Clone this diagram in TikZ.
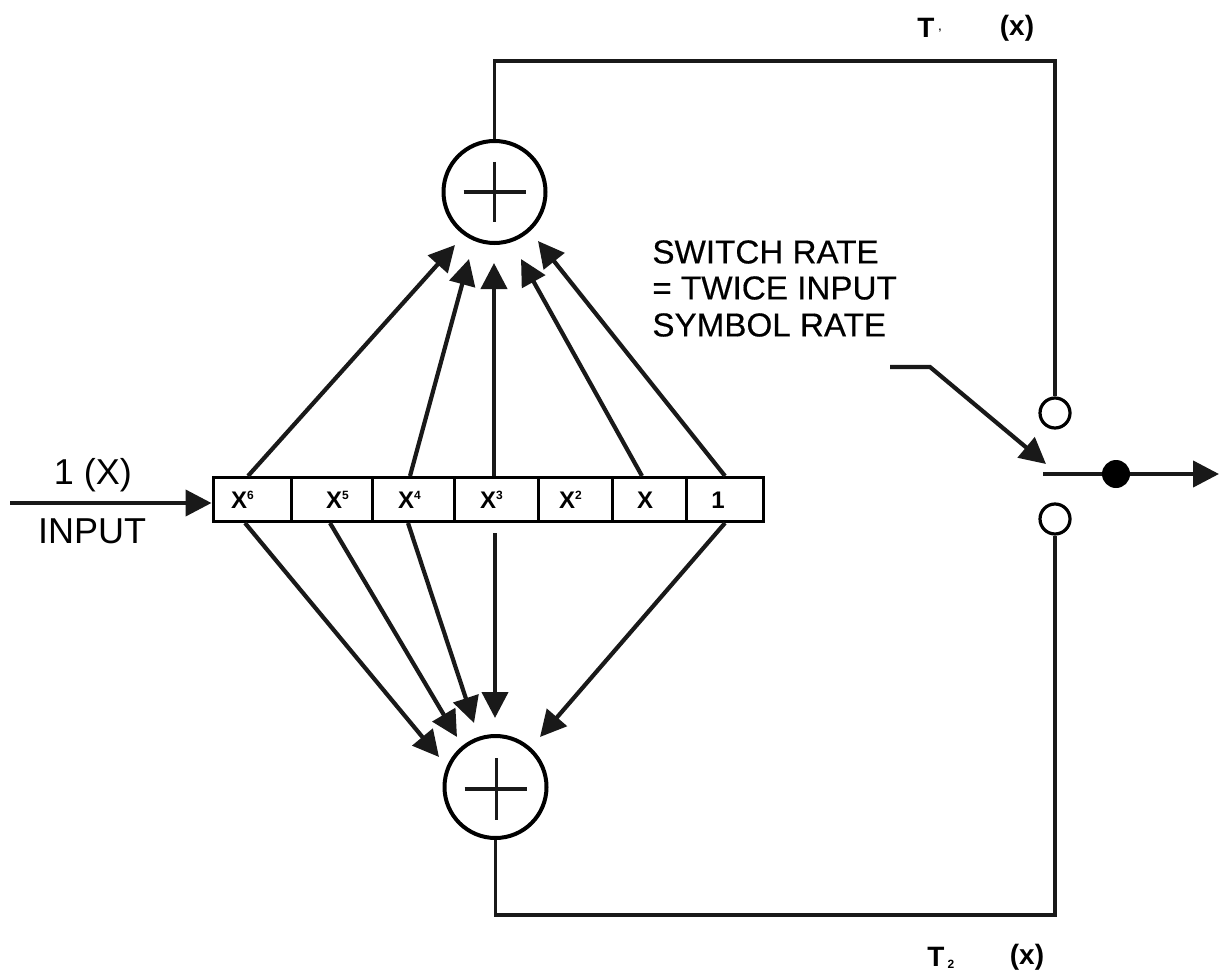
\documentclass[tikz,border=0pt]{standalone}
\usepackage{fontspec}
\setmainfont{Liberation Sans}
\usetikzlibrary{arrows.meta}
\tikzset{
  x=0.5pt,y=-0.5pt,
  wire/.style={line width=1.7pt,black!90},
  arr/.style={line width=2.1pt,black!90,-{Triangle[length=13pt,width=13pt]}},
  adder/.style={circle,draw,line width=2pt,minimum size=51pt,inner sep=0pt},
  port/.style={circle,draw,line width=1.6pt,minimum size=15pt,inner sep=0pt},
  dot/.style={circle,fill=black,minimum size=14pt,inner sep=0pt},
  cell/.style={draw,line width=1.5pt,minimum height=22pt,inner sep=0pt,anchor=center},
  celltext/.style={inner sep=0pt,font=\bfseries\fontsize{12}{13}\selectfont},
  lab/.style={font=\addfontfeature{FakeBold=0.4}\fontsize{16.6}{20}\selectfont,inner sep=0pt},
  inlab/.style={font=\fontsize{18}{20}\selectfont,inner sep=0pt},
  blab/.style={font=\bfseries\fontsize{14}{16}\selectfont,inner sep=0pt},
}
\newcommand{\sx}[1]{X\textsuperscript{\fontsize{6}{6}\selectfont #1}}
\begin{document}
\begin{tikzpicture}
\useasboundingbox (0,0) rectangle (1219,973);
\node[adder] (top) at (494.5,192) {};
\node[adder] (bot) at (495.5,787) {};
\draw[wire] (top.center) +(-31,0) -- +(31,0);
\draw[wire] (top.center) +(0,-30) -- +(0,30);
\draw[wire] (bot.center) +(-31,2) -- +(31,2);
\draw[wire] (bot.center) +(1,-29) -- +(1,33);
% register
\foreach \nm/\a/\b/\lx/\t in {c6/213/291/243/\sx{6},c5/291/372/338/\sx{5},c4/372/454/410/\sx{4},c3/454/538/492/\sx{3},c2/538/612/571/\sx{2},c1/612/686/645/X,c0/686/763/718/1}{
  \pgfmathsetmacro{\cellx}{(\a+\b)/2}
  \pgfmathsetmacro{\cellw}{(\b-\a)/2}
  \node[cell,minimum width=\cellw pt] (\nm) at (\cellx,499.5) {};
  \node[celltext] (\nm t) at (\lx,500) {\t};
}
% coordinates on the register edges
\coordinate (t6) at (248,476); \coordinate (t4) at (410,476); \coordinate (t3) at (494,476);
\coordinate (t1) at (642,476); \coordinate (t0) at (725,476);
\coordinate (b6) at (245,523); \coordinate (b5) at (330,523); \coordinate (b4) at (408,523);
\coordinate (b3) at (495,533); \coordinate (b0) at (725,523);
\coordinate (h6) at (455,245); \coordinate (h4) at (469,259); \coordinate (h3) at (494,263);
\coordinate (h1) at (521,259); \coordinate (h0) at (538,241);
\coordinate (k6) at (439,757); \coordinate (k5) at (457,737); \coordinate (k4) at (474,723);
\coordinate (k3) at (495,718); \coordinate (k0) at (540,737);
\foreach \s/\e in {t6/h6,t4/h4,t3/h3,t1/h1,t0/h0,b6/k6,b5/k5,b4/k4,b3/k3,b0/k0}
  \draw[arr] (\s) -- (\e);
% input
\coordinate (inp) at (10,503);
\draw[arr] (inp) -- (inp -| c6.west);
\node[inlab] (l1) at (93,475) {1 (X)};
\node[inlab] (l2) at (92,531) {INPUT};
% outputs
\node[port] (p1) at (1055,413) {};
\node[port] (p2) at (1055,519) {};
\node[dot] (d) at (1116,474) {};
\coordinate (sw) at (1043,474);
\coordinate (outr) at (1219,474);
\draw[wire] (sw) -- (d);
\draw[arr] (d) -- (outr);
\coordinate (c1) at (1055,61); \coordinate (c2) at (1055,915);
\draw[wire] (top.north) |- (c1) -- (p1.north);
\draw[wire] (bot.south) |- (c2) -- (p2.south);
\coordinate (s0) at (890,367); \coordinate (s1) at (930,367); \coordinate (s2) at (1046,464);
\draw[arr] (s0) -- (s1) -- (s2);
% labels
\node[lab,anchor=west,align=left] (sr) at (652,252) {SWITCH RATE};
\node[lab,anchor=west,align=left] (tw) at (652,288) {= TWICE INPUT};
\node[lab,anchor=west,align=left] (sy) at (652,325) {SYMBOL RATE};
\node[blab] (t1a) at (926,28) {T};
\node[blab] (t1b) at (1017,28) {(x)};
\node[inner sep=0pt,font=\bfseries\fontsize{5}{5}\selectfont] (t1c) at (940,31) {,};
\node[blab] (t2a) at (936,957) {T};
\node[inner sep=0pt,font=\bfseries\fontsize{6}{6}\selectfont] (t2c) at (951,964) {2};
\node[blab] (t2b) at (1027,957) {(x)};
\end{tikzpicture}
\end{document}
